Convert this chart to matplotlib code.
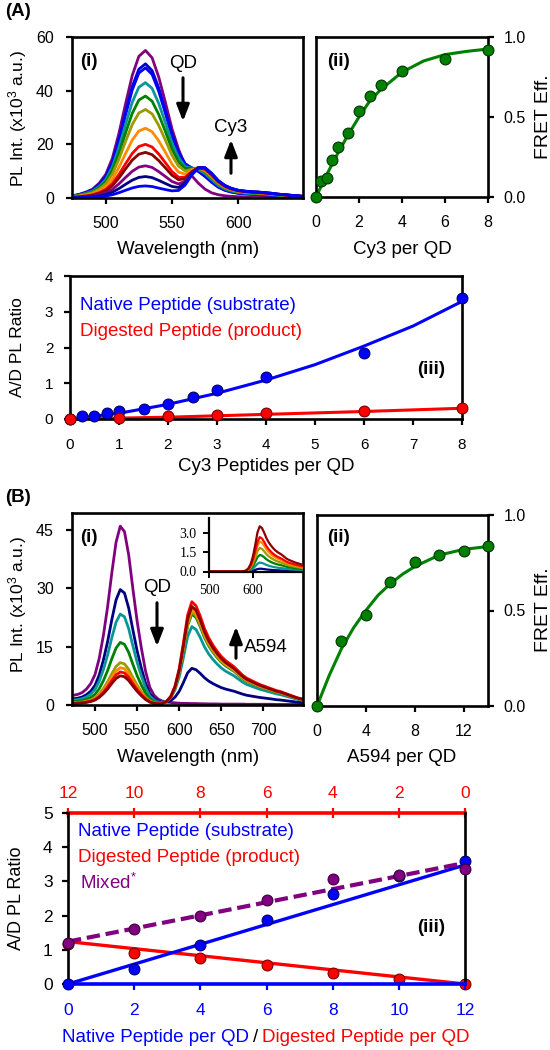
import numpy as np
import matplotlib
matplotlib.use("Agg")
import matplotlib.pyplot as plt
from matplotlib.patches import FancyArrowPatch

plt.rcParams['font.family'] = ['Liberation Sans', 'DejaVu Sans']
plt.rcParams['mathtext.fontset'] = 'custom'
plt.rcParams['mathtext.rm'] = 'Liberation Sans'
plt.rcParams['mathtext.it'] = 'Liberation Sans:italic'
plt.rcParams['mathtext.bf'] = 'Liberation Sans:bold'
plt.rcParams['mathtext.default'] = 'regular'

# ------------------------------------------------------------------ data
# Panel A(i): spectra = QD peak height x QD emission shape + Cy3 peak height x Cy3 emission shape
a_wavelength = list(range(470, 655, 5))
a_qd_shape = [0.010, 0.015, 0.025, 0.040, 0.060, 0.100, 0.160, 0.270, 0.440, 0.640,
              0.830, 0.960, 1.000, 0.950, 0.820, 0.650, 0.470, 0.330, 0.220, 0.150,
              0.100, 0.060, 0.035, 0.022, 0.015, 0.011, 0.009, 0.008, 0.007, 0.006,
              0.006, 0.005, 0.005, 0.005, 0.004, 0.004, 0.004]
a_cy3_shape = [0, 0, 0, 0, 0, 0, 0, 0, 0, 0, 0, 0, 0, 0, 0,
               0.02, 0.05, 0.12, 0.35, 0.72, 0.97, 1.00, 0.82, 0.58, 0.42, 0.32,
               0.26, 0.23, 0.21, 0.20, 0.18, 0.16, 0.13, 0.11, 0.09, 0.07, 0.05]
a_qd_peak = [55, 50, 48.5, 43, 38, 33, 26, 20, 17, 12, 8, 4.5]
a_cy3_peak = [0, 5, 5.5, 6.5, 7.5, 8, 9, 9.5, 10, 10.5, 10.8, 11]

# Panel A(ii)
a_cy3_per_qd = [0, 0.25, 0.5, 0.75, 1, 1.5, 2, 2.5, 3, 4, 6, 8]
a_fret = [0, 0.10, 0.12, 0.23, 0.31, 0.40, 0.54, 0.63, 0.70, 0.79, 0.86, 0.92]
a_fret_fit_x = [0, 0.5, 1, 1.5, 2, 2.5, 3, 4, 5, 6, 7, 8]
a_fret_fit = [0, 0.14, 0.27, 0.39, 0.50, 0.60, 0.67, 0.78, 0.85, 0.89, 0.91, 0.925]

# Panel A(iii)
a_native_x = [0, 0.25, 0.5, 0.75, 1, 1.5, 2, 2.5, 3, 4, 6, 8]
a_native = [0, 0.07, 0.08, 0.16, 0.21, 0.27, 0.42, 0.61, 0.81, 1.17, 1.84, 3.38]
a_digested_x = [0, 1, 2, 3, 4, 6, 8]
a_digested = [0, 0.03, 0.08, 0.12, 0.16, 0.22, 0.30]
a_native_fit_x = [0, 1, 2, 3, 4, 5, 6, 7, 8]
a_native_fit = [0, 0.16, 0.41, 0.72, 1.09, 1.52, 2.04, 2.60, 3.29]
a_digested_fit_x = [0, 2, 4, 6, 8]
a_digested_fit = [0, 0.05, 0.13, 0.21, 0.30]

# Panel B(i): spectra = QD peak x QD shape + A594 peak x A594 shape
b_wavelength = list(range(470, 755, 5))
b_qd_shape = [0.050, 0.055, 0.060, 0.070, 0.090, 0.120, 0.170, 0.260, 0.390, 0.550,
              0.740, 0.910, 1.000, 0.970, 0.840, 0.650, 0.470, 0.320, 0.190, 0.100,
              0.055, 0.033, 0.022, 0.017, 0.014, 0.012, 0.010,
              0.009, 0.009, 0.008, 0.008, 0.007, 0.007, 0.006, 0.006, 0.006, 0.005,
              0.005, 0.005, 0.005, 0.005, 0.005, 0.004, 0.004, 0.004, 0.004, 0.004,
              0.004, 0.004, 0.003, 0.003, 0.003, 0.003, 0.003, 0.003, 0.003, 0.003]
b_a594_shape = [0, 0, 0, 0, 0, 0, 0, 0, 0, 0, 0, 0, 0, 0, 0, 0, 0, 0, 0, 0, 0, 0,
                0.01, 0.03, 0.08, 0.18, 0.35, 0.60, 0.87, 1.00, 0.96, 0.86, 0.74,
                0.65, 0.58, 0.52, 0.47, 0.43, 0.40, 0.37, 0.33, 0.29, 0.26, 0.24,
                0.22, 0.20, 0.185, 0.17, 0.155, 0.14, 0.13, 0.115, 0.10, 0.085,
                0.07, 0.06, 0.05]
b_qd_peak = [46, 29.7, 23.4, 16.1, 10.9, 9.6, 8.5, 7.5]
b_a594_peak = [0, 9.2, 20, 23.3, 23.8, 24.5, 26.5, 25.3]
b_direct_peak = [0.22, 0.70, 1.30, 1.85, 2.35, 2.70, 3.55]   # inset

# Panel B(ii)
b_a594_per_qd = [0, 2, 4, 6, 8, 10, 12, 14]
b_fret = [0, 0.339, 0.475, 0.649, 0.753, 0.788, 0.814, 0.837]
b_fret_fit_x = [0, 1, 2, 3, 4, 5, 6, 7, 8, 10, 12, 14]
b_fret_fit = [0, 0.16, 0.30, 0.41, 0.50, 0.58, 0.64, 0.69, 0.73, 0.79, 0.82, 0.835]

# Panel B(iii)
b_native_per_qd = [0, 2, 4, 6, 8, 10, 12]
b_native = [0, 0.44, 1.14, 1.87, 2.64, 3.15, 3.59]
b_mixed = [1.19, 1.62, 1.99, 2.45, 3.06, 3.20, 3.35]
b_digested_per_qd = [12, 10, 8, 6, 4, 2, 0]
b_digested = [1.18, 0.91, 0.75, 0.55, 0.33, 0.15, 0.0]
b_native_fit_x, b_native_fit = [0, 12], [0.0, 3.48]
b_mixed_fit_x, b_mixed_fit = [0, 12], [1.24, 3.54]
b_digested_fit_x, b_digested_fit = [12, 0], [1.24, 0.0]

# ------------------------------------------------------------------ styles
PURPLE, BLUE, NAVY, TEAL = '#800080', '#0000FF', '#000080', '#0A9696'
GREEN, OLIVE, ORANGE, RED, DARKRED = '#008000', '#9B9B00', '#FF8C00', '#FF0000', '#8B0000'
a_colors = [PURPLE, '#0000CC', BLUE, TEAL, GREEN, OLIVE, ORANGE, RED, DARKRED, PURPLE, NAVY, BLUE]
b_colors = [PURPLE, NAVY, TEAL, GREEN, OLIVE, ORANGE, RED, DARKRED]
inset_colors = [NAVY, TEAL, GREEN, OLIVE, ORANGE, RED, DARKRED]

W, H = 550, 1050
fig = plt.figure(figsize=(W / 100, H / 100), dpi=100)


def rect(l, t, r, b):
    return [l / W, 1 - b / H, (r - l) / W, (b - t) / H]


def ftext(x, y, s, **kw):
    kw.setdefault('ha', 'center')
    kw.setdefault('va', 'center')
    fig.text(x / W, 1 - y / H, s, **kw)


def arrow(x, y0, y1):
    fig.add_artist(FancyArrowPatch((x / W, 1 - y0 / H), (x / W, 1 - y1 / H),
                                   transform=fig.transFigure,
                                   arrowstyle='-|>,head_length=0.9,head_width=0.35',
                                   mutation_scale=11, lw=2.2, color='k'))


def style(ax, labelsize=11.5, padx=9, pady=9):
    for sp in ax.spines.values():
        sp.set_linewidth(1.9)
    ax.tick_params(direction='out', length=4, width=1.6, labelsize=labelsize)
    ax.tick_params(axis='x', pad=padx)
    ax.tick_params(axis='y', pad=pady)


MK = dict(marker='o', ls='none', ms=7.8, mew=0.8, clip_on=False, zorder=5)

# ------------------------------------------------------------------ A(i)
ax = fig.add_axes(rect(72, 37, 303, 198))
qa, ca = np.array(a_qd_shape), np.array(a_cy3_shape)
for q, c, col in zip(a_qd_peak, a_cy3_peak, a_colors):
    ax.plot(a_wavelength, q * qa + c * ca, color=col, lw=2.0)
ax.set_xlim(474.5, 649)
ax.set_ylim(0, 60)
ax.set_xticks([500, 550, 600])
ax.set_yticks([0, 20, 40, 60])
style(ax)
ftext(89, 62, '(i)', fontsize=13.5, fontweight='bold')
ftext(183, 63, 'QD', fontsize=13.5)
ftext(231, 127, 'Cy3', fontsize=13.5)
arrow(183, 75, 124)
arrow(231, 176, 137)
ftext(18, 119, 'PL Int. (x10$^3$ a.u.)', fontsize=12.5, rotation=90)
ftext(188, 250, 'Wavelength (nm)', fontsize=13.5)
ftext(18, 11, '(A)', fontsize=13.5, fontweight='bold')

# ------------------------------------------------------------------ A(ii)
ax = fig.add_axes(rect(316, 37, 488, 197))
ax.plot(a_fret_fit_x, a_fret_fit, color=GREEN, lw=2.2)
ax.plot(a_cy3_per_qd, a_fret, mfc=GREEN, mec='#003300', **MK)
ax.set_xlim(0, 8)
ax.set_ylim(0, 1)
ax.set_xticks([0, 2, 4, 6, 8])
ax.set_yticks([0, 0.5, 1.0])
ax.set_yticklabels(['0.0', '0.5', '1.0'])
style(ax, pady=7)
ax.tick_params(axis='y', left=False, right=True, labelleft=False, labelright=True)
ftext(339, 62, '(ii)', fontsize=13.5, fontweight='bold')
ftext(402, 250, 'Cy3 per QD', fontsize=13.5)
ftext(543, 117, 'FRET Eff.', fontsize=14, rotation=90)

# ------------------------------------------------------------------ A(iii)
ax = fig.add_axes(rect(70, 276, 462, 419))
ax.plot(a_native_fit_x, a_native_fit, color=BLUE, lw=2.2)
ax.plot(a_digested_fit_x, a_digested_fit, color=RED, lw=2.2)
ax.plot(a_native_x, a_native, mfc=BLUE, mec='#00006A', **MK)
ax.plot(a_digested_x, a_digested, mfc=RED, mec='#7A0000', **MK)
ax.set_xlim(0, 8)
ax.set_ylim(0, 4)
ax.set_xticks(range(0, 9))
ax.set_yticks(range(0, 5))
style(ax, labelsize=11, padx=10, pady=8)
ftext(80, 305, 'Native Peptide (substrate)', fontsize=13.5, color=BLUE, ha='left')
ftext(80, 331, 'Digested Peptide (product)', fontsize=13.5, color=RED, ha='left')
ftext(431, 369, '(iii)', fontsize=13.5, fontweight='bold')
ftext(18, 347, 'A/D PL Ratio', fontsize=12.5, rotation=90)
ftext(266, 467, 'Cy3 Peptides per QD', fontsize=13.5)

# ------------------------------------------------------------------ B(i)
ax = fig.add_axes(rect(72, 513, 303, 705))
qb, ab = np.array(b_qd_shape), np.array(b_a594_shape)
for q, a, col in zip(b_qd_peak, b_a594_peak, b_colors):
    ax.plot(b_wavelength, q * qb + a * ab, color=col, lw=2.0)
ax.set_xlim(472.7, 747)
ax.set_ylim(0, 49.4)
ax.set_xticks([500, 550, 600, 650, 700])
ax.set_yticks([0, 15, 30, 45])
style(ax)
ftext(89, 538, '(i)', fontsize=13.5, fontweight='bold')
ftext(157, 588, 'QD', fontsize=13.5)
ftext(266, 648, 'A594', fontsize=13.5)
arrow(157, 600, 649)
arrow(236, 661, 624)
ftext(18, 605, 'PL Int. (x10$^3$ a.u.)', fontsize=12.5, rotation=90)
ftext(188, 757, 'Wavelength (nm)', fontsize=13.5)
ftext(18, 497, '(B)', fontsize=13.5, fontweight='bold')

# inset
axi = fig.add_axes(rect(209, 518, 303, 571.5))
for a, col in zip(b_direct_peak, inset_colors):
    axi.plot(b_wavelength, a * ab, color=col, lw=1.6)
axi.set_xlim(500, 713)
axi.set_ylim(0, 4.2)
axi.set_xticks([500, 600])
axi.set_yticks([0, 1.5, 3.0])
axi.set_yticklabels(['0.0', '1.5', '3.0'])
for s in ['top', 'right']:
    axi.spines[s].set_visible(False)
for s in ['left', 'bottom']:
    axi.spines[s].set_linewidth(1.6)
axi.patch.set_alpha(0)
axi.tick_params(direction='out', length=4, width=1.4, labelsize=10, pad=5)
for lab in axi.get_xticklabels() + axi.get_yticklabels():
    lab.set_fontfamily('Liberation Serif')

# ------------------------------------------------------------------ B(ii)
ax = fig.add_axes(rect(317, 515, 488, 706))
ax.plot(b_fret_fit_x, b_fret_fit, color=GREEN, lw=2.2)
ax.plot(b_a594_per_qd, b_fret, mfc=GREEN, mec='#003300', **MK)
ax.set_xlim(0, 14)
ax.set_ylim(0, 1)
ax.set_xticks([0, 4, 8, 12])
ax.set_yticks([0, 0.5, 1.0])
ax.set_yticklabels(['0.0', '0.5', '1.0'])
style(ax, pady=7)
ax.tick_params(axis='y', left=False, right=True, labelleft=False, labelright=True)
ftext(339, 537, '(ii)', fontsize=13.5, fontweight='bold')
ftext(402, 757, 'A594 per QD', fontsize=13.5)
ftext(543, 610, 'FRET Eff.', fontsize=14, rotation=90)

# ------------------------------------------------------------------ B(iii)
ax = fig.add_axes(rect(68, 813, 465, 984))
axt = ax.twiny()
axt.set_zorder(ax.get_zorder() - 1)
ax.patch.set_visible(False)

ax.plot(b_native_fit_x, b_native_fit, color=BLUE, lw=2.4)
ax.plot(b_mixed_fit_x, b_mixed_fit, color=PURPLE, lw=3.0, dashes=(3.2, 1.4))
ax.plot(b_native_per_qd, b_native, mfc=BLUE, mec='#00006A', **MK)
ax.plot(b_native_per_qd, b_mixed, mfc=PURPLE, mec='#3A003A', **MK)
axt.plot(b_digested_fit_x, b_digested_fit, color=RED, lw=2.4)
axt.plot(b_digested_per_qd, b_digested, mfc=RED, mec='#7A0000', **MK)

ax.set_xlim(0, 12)
axt.set_xlim(12, 0)
ax.set_ylim(0, 5)
ax.set_xticks(range(0, 13, 2))
axt.set_xticks(range(0, 13, 2))
ax.set_yticks(range(0, 6))
for sp in ax.spines.values():
    sp.set_linewidth(1.9)
ax.spines['top'].set_visible(False)
ax.spines['bottom'].set_color(BLUE)
ax.spines['bottom'].set_linewidth(2.6)
for s in ['bottom', 'left', 'right']:
    axt.spines[s].set_visible(False)
axt.spines['top'].set_color(RED)
axt.spines['top'].set_linewidth(2.6)
ax.tick_params(axis='y', direction='out', length=4, width=1.6, labelsize=12.5, pad=7)
ax.tick_params(axis='x', direction='out', length=4, width=1.6, labelsize=12.5, pad=10,
               colors=BLUE)
axt.tick_params(axis='x', direction='inout', length=7, width=1.6, labelsize=12.5, pad=5,
                colors=RED)

ftext(78, 832, 'Native Peptide (substrate)', fontsize=13.5, color=BLUE, ha='left')
ftext(78, 857, 'Digested Peptide (product)', fontsize=13.5, color=RED, ha='left')
ftext(80, 883, 'Mixed$^{*}$', fontsize=13.5, color=PURPLE, ha='left')
ftext(431, 927, '(iii)', fontsize=13.5, fontweight='bold')
ftext(17, 898, 'A/D PL Ratio', fontsize=13, rotation=90)
ftext(249, 1038, 'Native Peptide per QD', fontsize=13.5, color=BLUE, ha='right')
ftext(256, 1038, '/', fontsize=13.5, color='k')
ftext(262, 1038, 'Digested Peptide per QD', fontsize=13.5, color=RED, ha='left')

fig.savefig('out.png', dpi=100)
